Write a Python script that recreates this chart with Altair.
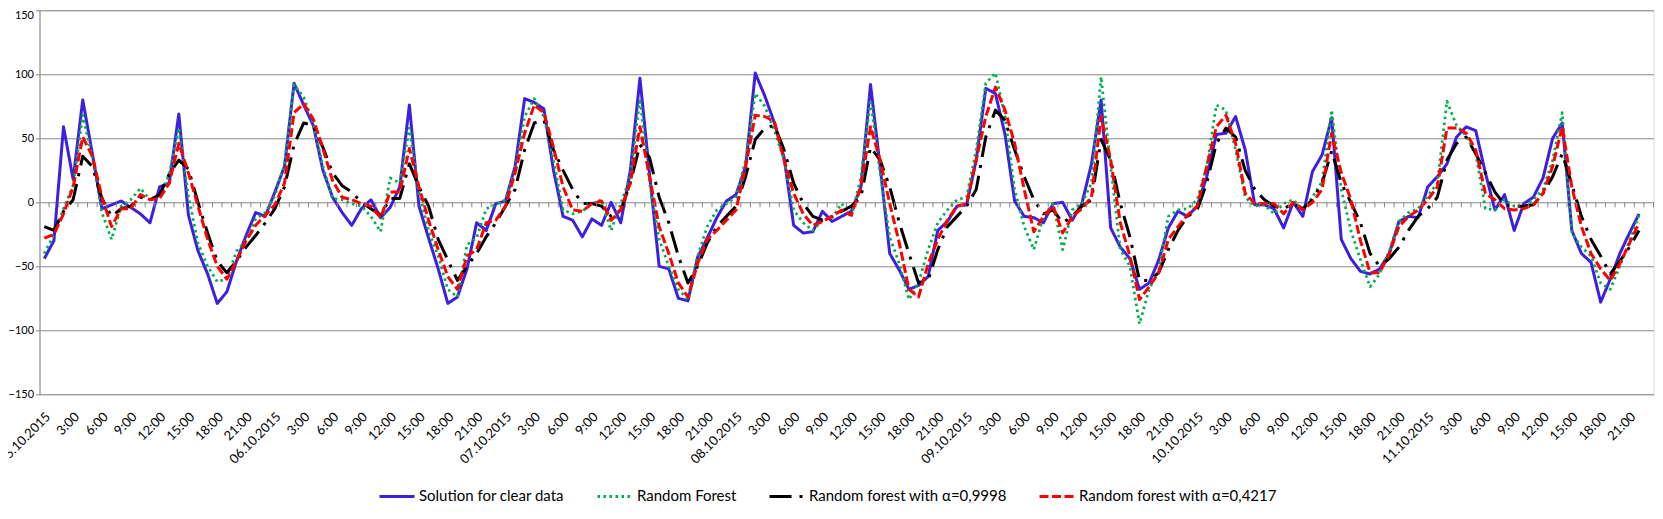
import altair as alt
import pandas as pd

# ---- tick labels (every 3 hours) ----
dates = ["05.10.2015", "06.10.2015", "07.10.2015", "08.10.2015",
         "09.10.2015", "10.10.2015", "11.10.2015"]
hour_labels = ["3:00", "6:00", "9:00", "12:00", "15:00", "18:00", "21:00"]
tick_labels = []
for d in dates:
    tick_labels.append(d)
    tick_labels.extend(hour_labels)

n_categories = 168  # 7 days x 24 hours

series_names = ["Solution for clear data", "Random Forest",
                "Random forest with \u03b1=0,9998", "Random forest with \u03b1=0,4217"]

clear_data = [
    -44, -30, 59, 18, 80, 38, -5, -2, 1, -4, -9, -16, 12, 15, 69, -10, -38, -56, -79, -70, -46, -26, -8, -11,
    8, 28, 93, 76, 60, 25, 4, -8, -18, -5, 2, -12, -4, 12, 76, -3, -28, -52, -79, -74, -52, -16, -22, -1,
    1, 28, 81, 78, 73, 25, -11, -14, -27, -13, -18, 0, -16, 25, 97, 22, -50, -52, -75, -77, -43, -28, -12, 1,
    6, 28, 101, 83, 62, 35, -18, -24, -23, -7, -15, -11, -7, 12, 92, 28, -40, -53, -68, -65, -58, -22, -15, -3,
    -2, 33, 89, 85, 53, 1, -11, -12, -16, -1, 0, -14, -1, 30, 80, -20, -35, -44, -68, -63, -45, -20, -7, -11,
    -3, 20, 53, 54, 67, 41, -2, -2, -5, -20, 0, -11, 24, 37, 66, -29, -44, -54, -56, -52, -40, -15, -11, -12,
    12, 20, 30, 51, 59, 56, 23, -6, 6, -22, -1, 4, 19, 50, 62, -22, -40, -47, -78, -60, -40, -24, -9,
]

random_forest = [
    -40, -25, -5, 13, 68, 35, -8, -29, -3, 2, 11, 2, 4, 22, 58, 5, -32, -50, -62, -60, -38, -30, -13, -8,
    5, 30, 92, 82, 62, 28, 3, 2, -1, -3, -11, -23, 19, 15, 58, 7, -22, -42, -68, -74, -33, -28, -5, -2,
    2, 25, 67, 81, 67, 33, -6, -9, -7, -1, 2, -22, -1, 20, 81, 15, -29, -50, -68, -76, -42, -19, -6, -1,
    4, 33, 85, 75, 56, 33, -6, -16, -22, -14, -12, -1, -12, 20, 80, 23, -27, -48, -76, -63, -37, -16, -6, 2,
    4, 41, 93, 101, 67, 10, -19, -37, -11, -1, -37, -6, -1, 15, 98, 28, -37, -50, -95, -68, -53, -11, -6, -5,
    2, 28, 76, 72, 41, 4, -3, -2, -9, -1, 2, -6, 4, 16, 72, 10, -22, -45, -66, -56, -38, -15, -8, -5,
    5, 15, 79, 60, 52, 38, -5, -6, 2, -3, -3, 2, 10, 33, 70, -24, -35, -42, -63, -68, -50, -30, -10,
]

rf_alpha_9998 = [
    -19, -22, -7, 2, 36, 28, 3, -11, -5, -3, 4, 2, 6, 22, 33, 26, 0, -24, -46, -55, -46, -35, -26, -16,
    -5, 12, 45, 62, 60, 43, 23, 13, 8, 0, -5, -10, 3, 3, 30, 12, -3, -29, -45, -61, -50, -40, -27, -16,
    -3, 10, 41, 62, 64, 41, 25, 10, -1, -1, -3, -11, -6, 15, 45, 35, 4, -16, -42, -63, -50, -32, -19, -11,
    -3, 20, 49, 58, 60, 41, 15, -1, -11, -14, -11, -7, -3, 4, 43, 33, 12, -16, -40, -63, -61, -37, -19, -11,
    -3, 10, 51, 72, 64, 41, 20, 2, -9, -6, -16, -11, -3, 2, 49, 33, -1, -27, -61, -61, -55, -37, -22, -11,
    -6, 15, 46, 58, 51, 25, 10, 2, -3, -5, -1, -5, 2, 15, 40, 15, 0, -16, -40, -50, -44, -35, -22, -11,
    -5, 4, 33, 46, 51, 38, 23, 8, -2, -3, -3, -2, 7, 20, 38, 14, -11, -29, -42, -56, -46, -35, -22,
]

rf_alpha_4217 = [
    -28, -25, -9, 12, 51, 36, 4, -19, -5, -5, 6, 2, 3, 15, 46, 23, -3, -29, -50, -60, -46, -30, -18, -10,
    -2, 15, 70, 77, 65, 42, 17, 4, 2, -1, -3, -12, 8, 8, 42, 12, -14, -37, -58, -68, -42, -37, -16, -14,
    -3, 23, 54, 76, 70, 43, 12, -6, -7, -1, 1, -14, -6, 15, 59, 20, -19, -40, -63, -74, -48, -29, -22, -14,
    -6, 28, 68, 67, 63, 33, 7, -9, -18, -15, -11, -6, -10, 12, 59, 33, -1, -32, -68, -74, -48, -29, -14, -3,
    -1, 33, 67, 90, 72, 46, 10, -23, -11, -3, -24, -11, -5, 4, 67, 33, -16, -42, -76, -66, -55, -29, -19, -10,
    -3, 28, 59, 68, 46, 7, -1, -1, -1, -9, 0, -6, 0, 10, 54, 23, 2, -30, -55, -55, -40, -19, -11, -6,
    2, 12, 58, 58, 54, 41, 7, 2, -5, -6, -5, -2, 7, 28, 59, 12, -19, -40, -52, -61, -48, -32, -16,
]

all_series = [clear_data, random_forest, rf_alpha_9998, rf_alpha_4217]
colors = ["#3D1FE0", "#00B050", "#000000", "#FF0000"]
dashes = [[1, 0], [2.5, 3.5], [22, 8, 3, 8], [9, 3.5]]
widths = [3, 2.75, 3, 3]

rows = []
for name, vals in zip(series_names, all_series):
    for i, v in enumerate(vals):
        rows.append({"hour": i, "series": name, "value": v})
df = pd.DataFrame(rows)

FONT = "Lato"
GRID = "#868686"

label_array = "[" + ",".join("'" + t + "'" for t in tick_labels) + "]"
label_expr = label_array + "[datum.value / 3]"

x_enc = alt.X(
    "hour:O",
    scale=alt.Scale(type="band", domain=list(range(n_categories)),
                    paddingInner=0, paddingOuter=0),
    axis=alt.Axis(values=list(range(0, n_categories, 3)), labelExpr=label_expr,
                  labelAngle=-45, labelAlign="right", labelBaseline="middle",
                  labelPadding=20, labelOffset=4, labelFont=FONT, labelFontSize=13,
                  labelColor="#000000", domain=False, ticks=False, grid=False,
                  labelOverlap=False, title=None),
)
y_enc = alt.Y(
    "value:Q",
    scale=alt.Scale(domain=[-150, 150], nice=False, zero=False),
    axis=alt.Axis(values=[-150, -100, -50, 0, 50, 100, 150], grid=True,
                  gridColor=GRID, gridWidth=1, domainColor=GRID, domainWidth=1,
                  tickColor=GRID, tickSize=4, labelFont=FONT, labelFontSize=11,
                  labelColor="#000000", labelPadding=2,
                  labelOffset={"condition": {"test": "datum.value == 150", "value": 5.5},
                               "value": 0},
                  title=None),
)

legend = alt.Legend(orient="none", legendX=338.5, legendY=467.2, direction="horizontal",
                    symbolType="stroke", symbolSize=1225, symbolStrokeWidth=3,
                    labelFont=FONT, labelFontSize=15, labelColor="#000000", labelLimit=0,
                    columnPadding=26, labelOffset=3, padding=0, title=None)

color_enc = alt.Color("series:N", scale=alt.Scale(domain=series_names, range=colors),
                      legend=legend, title=None)
dash_enc = alt.StrokeDash("series:N", scale=alt.Scale(domain=series_names, range=dashes),
                          legend=legend, title=None)

layers = []
for k, name in enumerate(series_names):
    layers.append(
        alt.Chart(df)
        .transform_filter(alt.datum.series == name)
        .mark_line(strokeWidth=widths[k], strokeJoin="round")
        .encode(x=x_enc, y=y_enc, color=color_enc, strokeDash=dash_enc)
    )

tick_df = pd.DataFrame({"hour": list(range(n_categories))})
ticks = (
    alt.Chart(tick_df)
    .mark_rule(color=GRID, strokeWidth=1)
    .encode(x=alt.X("hour:O", bandPosition=1), y=alt.datum(0), y2=alt.datum(-3.9))
)

chart = (
    alt.layer(*layers, ticks)
    .properties(width=1614, height=384,
                autosize=alt.AutoSizeParams(type="none"),
                padding={"left": 31.5, "top": 2.3, "right": 1.5, "bottom": 110})
    .configure_view(stroke=None)
    .configure(background="white")
)

chart.save("out.html", embed_options={"renderer": "svg", "actions": False})
